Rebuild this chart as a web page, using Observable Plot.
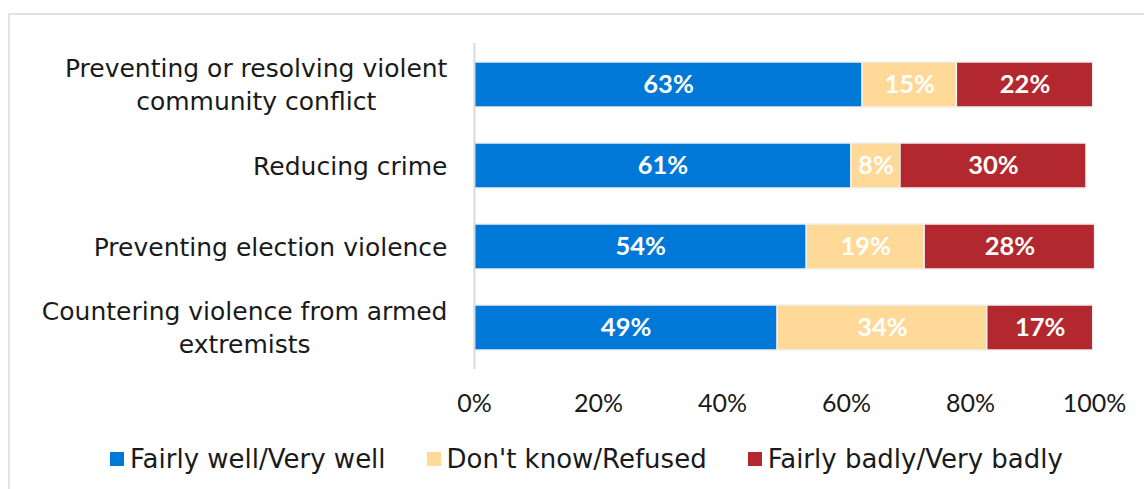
<!DOCTYPE html>
<html>
<head>
<meta charset="utf-8">
<script src="https://cdn.jsdelivr.net/npm/d3@7"></script>
<script src="https://cdn.jsdelivr.net/npm/@observablehq/plot@0.6"></script>
<style>
  html, body { margin: 0; padding: 0; background: #fff; overflow: hidden; }
  #wrap { position: relative; width: 1144px; height: 489px; }
  #frame { position: absolute; left: 8px; top: 13px; width: 1200px; height: 600px;
           border-left: 2px solid #e2e2e2; border-top: 2px solid #e2e2e2; pointer-events: none; }
  #chart svg { display: block; }
  div.lg-swatches { font: 26px "DejaVu Sans", sans-serif; color: #1a1a1a; margin-left: 110px; margin-top: 12px; min-height: 33px; }
  div.lg-swatches span.lg-swatch { margin-right: 41px; }
  div.lg-swatches span.lg-swatch > svg { margin-right: 6px; }
</style>
</head>
<body>
<div id="wrap">
  <div id="frame"></div>
  <div id="chart"></div>
</div>
<script>
const categories = [
  "Preventing or resolving violent\ncommunity conflict",
  "Reducing crime",
  "Preventing election violence",
  "Countering violence from armed\nextremists"
];
const series = ["Fairly well/Very well", "Don't know/Refused", "Fairly badly/Very badly"];
const wellValues  = [62.6, 60.8, 53.6, 48.9];
const dkValues    = [15.2, 7.9, 19.0, 33.8];
const badlyValues = [22.0, 30.0, 27.5, 17.1];
const xTicks = [0, 20, 40, 60, 80, 100];
const colors = ["#0078d7", "#fed998", "#b2282e"];

const seriesValues = [wellValues, dkValues, badlyValues];
const rows = [];
categories.forEach((c, i) => {
  series.forEach((s, j) => {
    rows.push({category: c, series: s, value: seriesValues[j][i]});
  });
});

const plot = Plot.plot({
  width: 1144,
  height: 430,
  marginLeft: 474,
  marginRight: 50,
  marginTop: 43,
  marginBottom: 61,
  style: {fontFamily: "Lato, sans-serif", fontSize: "25px", color: "#1a1a1a", background: "transparent"},
  x: {domain: [0, 100]},
  y: {domain: categories, paddingInner: 0.45, paddingOuter: 0.22},
  color: {domain: series, range: colors},
  marks: [
    Plot.barX(rows, Plot.stackX({x: "value", y: "category", fill: "series", order: null,
      stroke: "#f0f0f0", strokeWidth: 1.5})),
    Plot.text(rows, Plot.stackX({x: "value", y: "category", z: "series", order: null,
      text: d => Math.round(d.value) + "%", fill: "white", fontWeight: "bold", fontSize: 25.5})),
    Plot.ruleX([0], {stroke: "#d9d9d9", strokeWidth: 2}),
    Plot.axisX({ticks: xTicks, tickFormat: d => d + "%", tickSize: 0, tickPadding: 25, label: null}),
    Plot.axisY({tickSize: 0, tickPadding: 27, label: null, lineHeight: 1.32, dy: -2,
      fontFamily: "DejaVu Sans, sans-serif", fontSize: 25})
  ]
});

const chart = document.getElementById("chart");
chart.appendChild(plot);

// center-align the lines of each multi-line category label within its right-aligned block
d3.select(plot).selectAll('g[aria-label="y-axis tick label"] text').each(function() {
  const w = this.getBBox().width;
  this.setAttribute("text-anchor", "middle");
  const tspans = this.querySelectorAll("tspan");
  if (tspans.length) tspans.forEach(t => t.setAttribute("x", -w / 2));
  else this.setAttribute("x", -w / 2);
});

const legend = Plot.legend({
  color: {domain: series, range: colors},
  swatchSize: 14,
  className: "lg"
});
chart.appendChild(legend);
</script>
</body>
</html>
